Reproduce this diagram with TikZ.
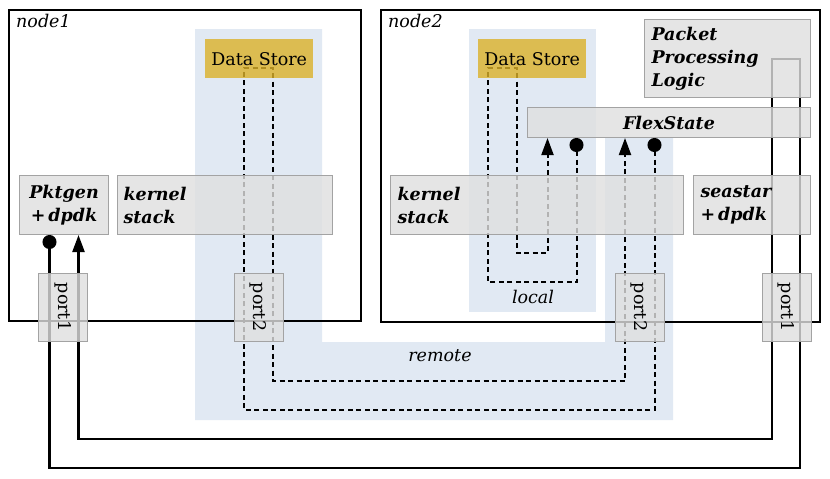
\documentclass[tikz,border=0pt]{standalone}
\usepackage{fontspec}
\setmainfont{DejaVu Serif}
\usetikzlibrary{arrows.meta}
\definecolor{regionblue}{RGB}{225,233,243}
\definecolor{storegold}{RGB}{219,177,41}
\definecolor{boxgray}{gray}{0.875}
\definecolor{boxborder}{gray}{0.64}
\pgfdeclarelayer{bg}
\pgfdeclarelayer{wires}
\pgfsetlayers{bg,wires,main}
\begin{document}
\begin{tikzpicture}[x=1pt,y=-1pt,
  frame/.style={draw=black, line width=1.8pt},
  region/.style={fill=regionblue, draw=none},
  graybox/.style={draw=boxborder, fill=boxgray, fill opacity=0.8, text opacity=1, line width=1pt,
    inner sep=0pt, anchor=north west, font=\bfseries\itshape\fontsize{17.5}{23}\selectfont},
  storebox/.style={fill=storegold, fill opacity=0.8, text opacity=1, draw=none, inner sep=0pt,
    anchor=north west, font=\fontsize{17.5}{20}\selectfont},
  portbox/.style={draw=boxborder, fill=boxgray, fill opacity=0.8, text opacity=1, line width=1pt,
    inner sep=0pt, rotate=-90, minimum width=68pt, minimum height=49pt, font=\fontsize{17.5}{20}\selectfont},
  conn/.style={draw=black, line width=2.2pt},
  dconn/.style={draw=black, line width=2pt, dash pattern=on 5pt off 3.5pt},
  lbl/.style={font=\itshape\fontsize{17.5}{20}\selectfont, inner sep=0pt}
]
\useasboundingbox (0,0) rectangle (830,479);

% ---- boxes (main layer, semi-transparent over wires)
\node[graybox, minimum width=89pt, minimum height=59pt, text width=89pt, align=center] (pktgen) at (19,175) {Pktgen\\+\,dpdk};
\node[graybox, minimum width=215pt, minimum height=59pt, text width=203pt, inner xsep=6pt, align=left] (kern1) at (117,175) {kernel\\stack};
\node[graybox, minimum width=293pt, minimum height=59pt, text width=279pt, inner xsep=7pt, align=left] (kern2) at (390,175) {kernel\\stack};
\node[graybox, minimum width=117pt, minimum height=59pt, text width=103pt, inner xsep=7pt, align=left] (seastar) at (693,175) {seastar\\+\,dpdk};
\node[graybox, minimum width=166pt, minimum height=78pt, text width=152pt, inner xsep=7pt, align=left] (ppl) at (644,19) {Packet\\Processing\\Logic};
\node[graybox, minimum width=283pt, minimum height=30pt, text width=283pt, align=center] (flex) at (527,107) {FlexState};
\node[storebox, minimum width=108pt, minimum height=39pt] (ds1) at (205,39) {Data Store};
\node[storebox, minimum width=108pt, minimum height=39pt] (ds2) at (478,39) {Data Store};
\node[portbox] (p1a) at (63,307) {port1};
\node[portbox] (p2a) at (258.5,307) {port2};
\node[portbox] (p2b) at (639.5,307) {port2};
\node[portbox] (p1b) at (786.5,307) {port1};

\node[lbl] (local) at (533,297) {local};
\node[lbl] (remote) at (440,356) {remote};

% ---- regions and frames
\begin{pgfonlayer}{bg}
\fill[region] (195,29) -- (322,29) -- (322,342) -- (605,342) -- (605,137) -- (673,137) -- (673,420) -- (195,420) -- cycle;
\fill[region] (469,29) rectangle (596,312);
\draw[frame] (9,10) rectangle (361,321);
\draw[frame] (381,10) rectangle (820,322);
\end{pgfonlayer}
\node[lbl, anchor=north west] (n1lbl) at (16,14) {node1};
\node[lbl, anchor=north west] (n2lbl) at (388,14) {node2};

% ---- wires
\begin{pgfonlayer}{wires}
\draw[conn, {Circle[length=14pt]}-{Triangle[length=17pt,width=12pt]}]
  ([xshift=-14.5pt]pktgen.south) |- (800,468) |- (772,59) -- (772,439) -| ([xshift=14.5pt]pktgen.south);
\draw[dconn, {Circle[length=14pt]}-{Triangle[length=17pt,width=12pt]}]
  ([xshift=-14.5pt]flex.south) |- (244,410) |- (273,68) -- (273,381) -| ([xshift=-44pt]flex.south);
\draw[dconn, {Circle[length=14pt]}-{Triangle[length=17pt,width=12pt]}]
  ([xshift=-92.5pt]flex.south) |- (488,282) |- (517,68) -- (517,253) -| ([xshift=-121.5pt]flex.south);
\end{pgfonlayer}
\end{tikzpicture}
\end{document}
